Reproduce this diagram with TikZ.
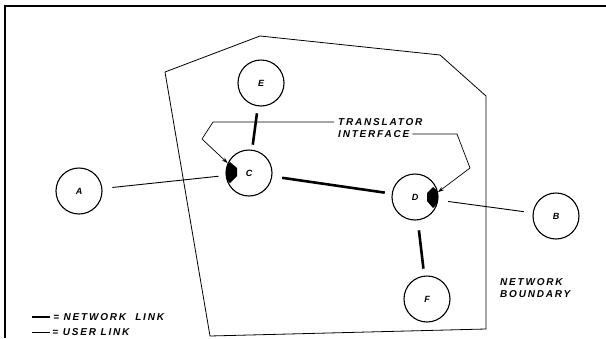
\documentclass[tikz,border=0pt]{standalone}
\usepackage{fontspec}
\newfontfamily\labelfont[LetterSpace=18]{Liberation Sans}
\usepackage{tikz}
\usetikzlibrary{arrows.meta, calc}

\begin{document}
\begin{tikzpicture}[x=1pt, y=-1pt, >={Stealth[length=6pt, width=4pt]},
    station/.style={circle, draw, line width=1.1pt, minimum size=46pt, inner sep=0pt,
      font=\labelfont\bfseries\itshape\fontsize{9}{10}\selectfont},
    netlink/.style={line width=2.6pt},
    userlink/.style={line width=0.9pt},
    leader/.style={line width=0.7pt},
    tag/.style={inner sep=0pt, font=\labelfont\bfseries\itshape\fontsize{10}{12}\selectfont}]
    \useasboundingbox (0,0) rectangle (606,338);
    % frame and network boundary
    \draw[line width=1.8pt] (5,338) -- (5,6) -- (606,6);
    \draw[line width=0.8pt] (165,72) -- (260,36) -- (440,55) -- (486,96) -- (486,329) -- (210,336) -- cycle;

    \node[station] (A) at (79,191) {A};
    \node[station] (C) at (249,173) {C};
    \node[station] (D) at (415,197) {D};
    \node[station] (B) at (556,216) {B};
    \node[station] (E) at (261,83) {E};
    \node[station] (F) at (427,299) {F};

    \draw[userlink, shorten <=10pt, shorten >=7pt] (A) -- (C);
    \draw[netlink, shorten <=7pt, shorten >=5pt] (E) -- (C);
    \draw[netlink, shorten <=10pt, shorten >=7pt] (C) -- (D);
    \draw[netlink, shorten <=10pt, shorten >=7pt] (D) -- (F);
    \draw[userlink, shorten <=10pt, shorten >=9pt] (D) -- (B);

    % translator wedges
    \begin{scope}
        \clip (C) circle (23pt);
        \fill ($(C)+(-19,-11)$) -- ($(C)+(-12,-5)$) -- ($(C)+(-12,3)$) -- ($(C)+(-19,10)$) -- ($(C)+(-30,0)$) -- cycle;
    \end{scope}
    \begin{scope}
        \clip (D) circle (23pt);
        \fill ($(D)+(18,-10)$) -- ($(D)+(12,-4)$) -- ($(D)+(12,4)$) -- ($(D)+(18,11)$) -- ($(D)+(30,0)$) -- cycle;
    \end{scope}

    \node[tag, anchor=west] (trans) at (338,122) {TRANSLATOR};
    \node[tag, anchor=west] (iface) at (338,134) {INTERFACE};
    \draw[leader, ->] ([xshift=-4pt]trans.west) -- ++(-121,0) -- ++(-11,17) -- (C.155);
    \draw[leader, ->] ([xshift=3pt]iface.east) -- (457,134) -- (470,168) -- (D.12);

    \node[tag, anchor=west] (nettag) at (500,282) {NETWORK};
    \node[tag, anchor=west] (bndtag) at (500,294) {BOUNDARY};

    % legend
    \coordinate (netkey) at (32,317);
    \coordinate (userkey) at (32,332);
    \draw[netlink] (netkey) -- ++(18,0) node[tag, anchor=west, xshift=2pt] (netlabel) {= NETWORK\ \ LINK};
    \draw[userlink] (userkey) -- ++(18,0) node[tag, anchor=west, xshift=2pt] (userlabel) {= USER LINK};
\end{tikzpicture}
\end{document}
